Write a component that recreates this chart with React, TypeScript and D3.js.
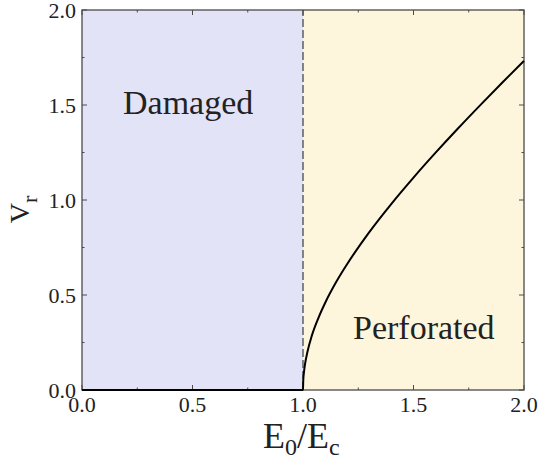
import React from "react";
import * as d3 from "d3";

// Regime boundary and axis extents
const xDomain: [number, number] = [0, 2];
const yDomain: [number, number] = [0, 2];
const threshold = 1.0;

// Residual velocity V_r versus normalised impact energy E0/Ec
const energyRatio = [0.0, 0.5, 1.0, 1.001, 1.005, 1.01, 1.02, 1.04, 1.07, 1.1, 1.15, 1.2, 1.3, 1.4, 1.5, 1.6, 1.7, 1.8, 1.9, 2.0];
const residualVelocity = [0.0, 0.0, 0.0, 0.045, 0.1, 0.142, 0.2, 0.286, 0.38, 0.458, 0.568, 0.663, 0.831, 0.98, 1.118, 1.249, 1.375, 1.497, 1.616, 1.732];

const majorTicks = [0, 0.5, 1.0, 1.5, 2.0];
const minorTicks = [0.25, 0.75, 1.25, 1.75];
const tickLabels = ["0.0", "0.5", "1.0", "1.5", "2.0"];

const regionLabels = ["Damaged", "Perforated"];

const W = 541;
const H = 461;
const M = { left: 82, right: 17, top: 10, bottom: 71 };

const FRAME = "#4a4a4a";
const INK = "#222";
const serif = (size: number): React.CSSProperties => ({ fontFamily: '"Liberation Serif"', fontSize: size });

export default function App() {
  const x = d3.scaleLinear().domain(xDomain).range([M.left, W - M.right]);
  const y = d3.scaleLinear().domain(yDomain).range([H - M.bottom, M.top]);

  const pts = energyRatio.map((e, i) => [e, residualVelocity[i]] as [number, number]);
  const line = d3.line<[number, number]>()
    .x((d) => x(d[0]))
    .y((d) => y(d[1]))
    .curve(d3.curveMonotoneX);

  const x0 = x(xDomain[0]);
  const x1 = x(xDomain[1]);
  const y0 = y(yDomain[0]);
  const y1 = y(yDomain[1]);
  const xt = x(threshold);

  // Inward ticks on all four sides
  const tickLines = (vals: number[], len: number, key: string) =>
    vals.flatMap((v) => [
      <line key={`${key}b${v}`} x1={x(v)} x2={x(v)} y1={y0} y2={y0 - len} />,
      <line key={`${key}t${v}`} x1={x(v)} x2={x(v)} y1={y1} y2={y1 + len} />,
      <line key={`${key}l${v}`} x1={x0} x2={x0 + len} y1={y(v)} y2={y(v)} />,
      <line key={`${key}r${v}`} x1={x1} x2={x1 - len} y1={y(v)} y2={y(v)} />,
    ]);

  return (
    <svg width={W} height={H} style={{ position: "absolute", left: 0, top: 0 }}>
      <style>{`text, tspan { font-family: "Liberation Serif", Tinos, "Times New Roman", serif; }`}</style>

      {/* Regime backgrounds */}
      <rect x={x0} y={y1} width={xt - x0} height={y0 - y1} fill="#e3e3f8" />
      <rect x={xt} y={y1} width={x1 - xt} height={y0 - y1} fill="#fef6dc" />

      {/* Threshold line */}
      <line x1={xt} x2={xt} y1={y0} y2={y1} stroke="#555" strokeWidth={1.4} strokeDasharray="8,3" />

      {/* Frame */}
      <rect x={x0} y={y1} width={x1 - x0} height={y0 - y1} fill="none" stroke={FRAME} strokeWidth={1.3} />

      <g stroke={FRAME} strokeWidth={1}>
        {tickLines(majorTicks, 5, "M")}
        {tickLines(minorTicks, 2.5, "m")}
      </g>

      {/* Tick labels */}
      {majorTicks.map((v, i) => (
        <text key={`xl${v}`} x={x(v)} y={y0 + 22} textAnchor="middle" fill={INK} style={serif(22)}>
          {tickLabels[i]}
        </text>
      ))}
      {majorTicks.map((v, i) => (
        <text key={`yl${v}`} x={x0 - 6} y={y(v) + 8} textAnchor="end" fill={INK} style={serif(22)}>
          {tickLabels[i]}
        </text>
      ))}

      {/* Residual velocity curve */}
      <path d={line(pts) ?? ""} fill="none" stroke="#000" strokeWidth={2} />

      {/* Region labels */}
      <text x={123} y={114} fill={INK} style={serif(34)}>
        {regionLabels[0]}
      </text>
      <text x={353} y={339} fill={INK} style={serif(34)}>
        {regionLabels[1]}
      </text>

      {/* Axis titles */}
      <text x={263} y={448} fill={INK} style={serif(36)}>
        <tspan>E</tspan>
        <tspan dy={7} style={serif(24)}>0</tspan>
        <tspan dy={-7}>/E</tspan>
        <tspan dy={7} style={serif(24)}>c</tspan>
      </text>
      <text transform={`translate(29,${y(0.95)}) rotate(-90)`} textAnchor="middle" fill={INK} style={serif(28)}>
        <tspan>V</tspan>
        <tspan dy={8} style={serif(22)}>r</tspan>
      </text>
    </svg>
  );
}
